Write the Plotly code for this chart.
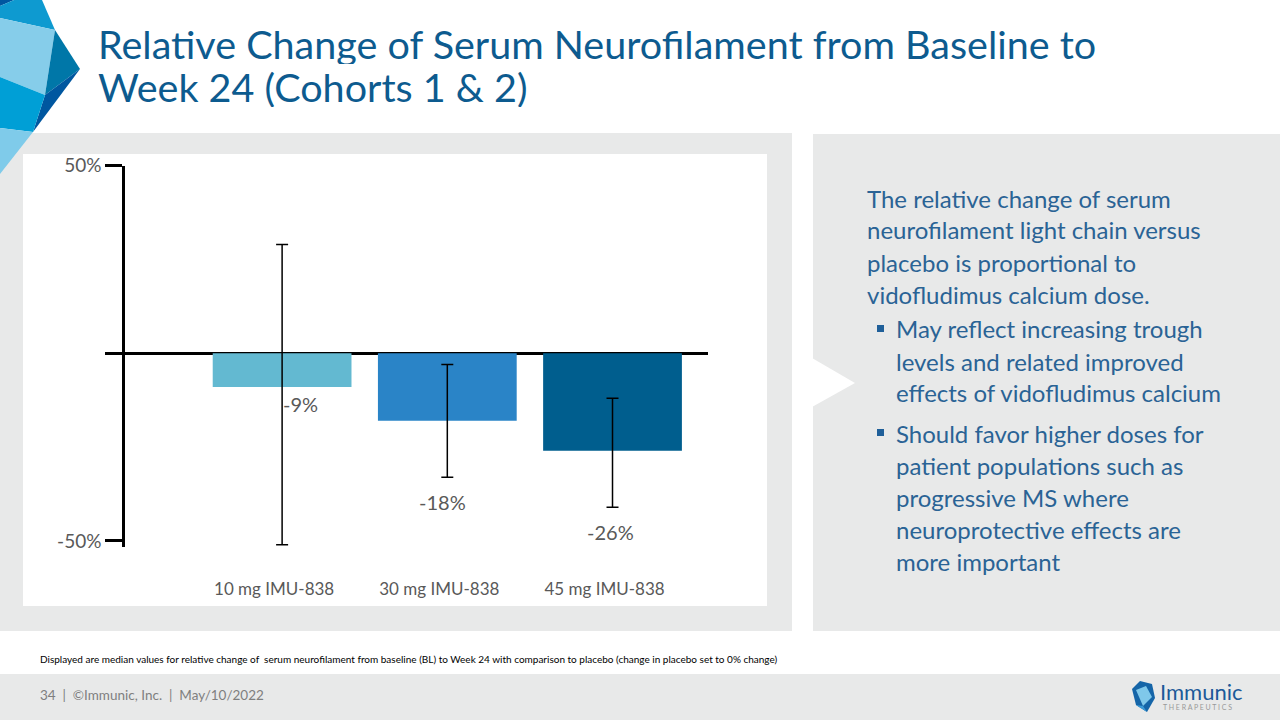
import plotly.graph_objects as go

# Chart data
doses = ["10 mg IMU-838", "30 mg IMU-838", "45 mg IMU-838"]
median_change = [-9, -18, -26]
ci_upper = [29, -3, -12]
ci_lower = [-51, -33, -41]
bar_colors = ["#63B9D1", "#2A84C7", "#005E8E"]

title_lines = ["Relative Change of Serum Neurofilament from Baseline to",
               "Week 24 (Cohorts 1 & 2)"]
intro_lines = ["The relative change of serum",
               "neurofilament light chain versus",
               "placebo is proportional to",
               "vidofludimus calcium dose."]
bullets = [["May reflect increasing trough",
            "levels and related improved",
            "effects of vidofludimus calcium"],
           ["Should favor higher doses for",
            "patient populations such as",
            "progressive MS where",
            "neuroprotective effects are",
            "more important"]]
footnote = ("Displayed are median values for relative change of  serum neurofilament from baseline (BL) "
            "to Week 24 with comparison to placebo (change in placebo set to 0% change)")
footer = "34  |  ©Immunic, Inc.  |  May/10/2022"

W, H = 1280, 720
FONT = "Lato"
GRAY_BG = "#E8E9E9"
TEXT_BLUE = "#2A6395"


def px(x):
    return x / W


def py(y):
    return 1 - y / H


def rect(x0, y0, x1, y1, color):
    return dict(type="rect", xref="paper", yref="paper", x0=px(x0), x1=px(x1),
                y0=py(y1), y1=py(y0), fillcolor=color, line_width=0, layer="below")


def poly(points, color, layer="below"):
    d = "M " + " L ".join(f"{px(x)},{py(y)}" for x, y in points) + " Z"
    return dict(type="path", xref="paper", yref="paper", path=d,
                fillcolor=color, line_width=0, layer=layer)


err_plus = [u - v for u, v in zip(ci_upper, median_change)]
err_minus = [v - l for l, v in zip(ci_lower, median_change)]

fig = go.Figure()
fig.add_trace(go.Bar(
    x=doses, y=median_change, width=0.84,
    marker=dict(color=bar_colors, line_width=0),
    error_y=dict(type="data", symmetric=False, array=err_plus, arrayminus=err_minus,
                 color="black", thickness=1.5, width=6),
    hoverinfo="skip"))

shapes = []
# background panels
shapes.append(rect(0, 133, 792, 631, GRAY_BG))
shapes.append(rect(23, 154, 767, 606, "white"))
shapes.append(rect(813, 134, 1280, 631, GRAY_BG))
shapes.append(poly([(812, 358), (855, 383), (812, 407)], "white"))
shapes.append(rect(0, 674, 1280, 720, GRAY_BG))

# decoration top-left
shapes.append(poly([(0, 0), (14, 0), (0, 6)], "#0057A0", "above"))
shapes.append(poly([(14, 0), (42, 0), (55, 30), (0, 18), (0, 6)], "#0E9AD0", "above"))
shapes.append(poly([(0, 18), (55, 30), (45, 95), (0, 77)], "#86CDEA", "above"))
shapes.append(poly([(55, 30), (80, 69), (45, 95)], "#0077A8", "above"))
shapes.append(poly([(45, 95), (80, 69), (33, 132)], "#0057A0", "above"))
shapes.append(poly([(0, 77), (45, 95), (33, 132), (0, 128)], "#009FD6", "above"))
shapes.append(poly([(0, 128), (33, 132), (0, 174)], "#7FCBEA", "above"))

# logo icon
shapes.append(poly([(1132, 689), (1140, 681), (1152, 684), (1155, 698), (1147, 712), (1136, 705)], "#1565A8", "above"))
shapes.append(poly([(1136, 690), (1146, 686), (1152, 697), (1143, 706)], "#7FC8EA", "above"))
shapes.append(poly([(1136, 705), (1143, 706), (1147, 712)], "#3A9AD6", "above"))

annotations = []
# title
for i, line in enumerate(title_lines):
    annotations.append(dict(text=line, x=px(96), y=py(43 + i * 43), xref="paper", yref="paper",
                            xanchor="left", yanchor="middle", showarrow=False, height=42,
                            font=dict(family=FONT, size=39.5, color="#0D5B8F")))

# right panel text
line_y = 198
for line in intro_lines:
    annotations.append(dict(text=line, x=px(865), y=py(line_y), xref="paper", yref="paper",
                            xanchor="left", yanchor="middle", showarrow=False,
                            font=dict(family=FONT, size=24, color=TEXT_BLUE)))
    line_y += 32
line_y += 3
for item in bullets:
    shapes.append(rect(877, line_y - 4, 884, line_y + 3, "#1F5F99"))
    for line in item:
        annotations.append(dict(text=line, x=px(894), y=py(line_y), xref="paper", yref="paper",
                                xanchor="left", yanchor="middle", showarrow=False,
                                font=dict(family=FONT, size=24, color=TEXT_BLUE)))
        line_y += 32
    line_y += 8

# value labels under the bars / error bars
label_y = [median_change[0] - 4.6, ci_lower[1] - 6.6, ci_lower[2] - 6.6]
label_dx = [18, -5, -2]
for d, v, ly, dx in zip(doses, median_change, label_y, label_dx):
    annotations.append(dict(text=f"{v}%", x=d, y=ly, xref="x", yref="y", xshift=dx,
                            xanchor="center", yanchor="middle", showarrow=False,
                            font=dict(family=FONT, size=20, color="#595959")))

# footnote and footer
annotations.append(dict(text=footnote, x=px(38), y=py(659), xref="paper", yref="paper",
                        xanchor="left", yanchor="middle", showarrow=False,
                        font=dict(family=FONT, size=10, color="black")))
annotations.append(dict(text=footer, x=px(38), y=py(695), xref="paper", yref="paper",
                        xanchor="left", yanchor="middle", showarrow=False,
                        font=dict(family=FONT, size=13.5, color="#7F7F7F")))
annotations.append(dict(text="Immunic", x=px(1158), y=py(691), xref="paper", yref="paper",
                        xanchor="left", yanchor="middle", showarrow=False,
                        font=dict(family=FONT, size=22, color="#1C5A99")))
annotations.append(dict(text="T H E R A P E U T I C S", x=px(1161), y=py(707), xref="paper", yref="paper",
                        xanchor="left", yanchor="middle", showarrow=False,
                        font=dict(family=FONT, size=7, color="#999999")))

fig.update_layout(
    width=W, height=H, margin=dict(l=0, r=0, t=0, b=0),
    paper_bgcolor="white", plot_bgcolor="rgba(0,0,0,0)",
    showlegend=False, shapes=shapes, annotations=annotations,
    font=dict(family=FONT, color="#595959"),
)
fig.update_xaxes(domain=[px(125), px(708)], range=[-0.951, 2.578], type="category",
                 automargin=False, showline=False, showgrid=False, ticks="",
                 ticklabelstandoff=30, ticklabelshift=-8,
                 tickfont=dict(family=FONT, size=17, color="#595959"))
fig.update_yaxes(domain=[py(547.3), py(165.7)], range=[-51.7, 50], automargin=False,
                 showline=True, linecolor="black", linewidth=2.5, showgrid=False,
                 zeroline=True, zerolinecolor="black", zerolinewidth=3,
                 tickvals=[-50, 0, 50], ticktext=["-50%", "", "50%"],
                 ticks="outside", ticklen=17, tickwidth=2.5, tickcolor="black",
                 tickfont=dict(family=FONT, size=19, color="#595959"))

fig.write_html("out.html", config={"displayModeBar": False},
               post_script="document.body.style.margin='0';")
